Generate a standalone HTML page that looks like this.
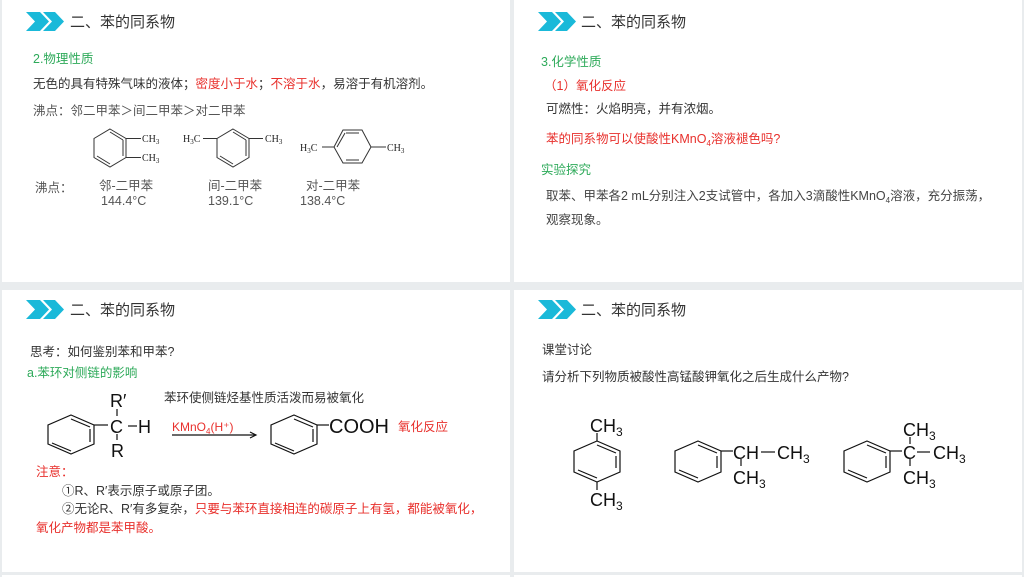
<!DOCTYPE html>
<html><head><meta charset="utf-8"><style>
html,body{margin:0;padding:0;background:#e9ecee;}
svg{display:block}
text{font-family:"Liberation Sans","Noto Sans CJK SC",sans-serif;}
.t{font-size:15px;fill:#333}
.g{font-size:12.5px;fill:#2eaa5a}
.b{font-size:12.5px;fill:#333}
.r{font-size:12.5px;fill:#e8302c}
.s{font-family:"Liberation Serif",serif;font-size:10px;fill:#222}
.m{font-size:18px;fill:#111}
</style></head><body>
<svg width="1024" height="577" viewBox="0 0 1024 577" xmlns="http://www.w3.org/2000/svg">
<rect x="0" y="0" width="1024" height="577" fill="#e9ecee"/>
<rect x="2" y="0" width="508" height="282" fill="#fff"/>
<rect x="514" y="0" width="508" height="282" fill="#fff"/>
<rect x="2" y="290" width="508" height="282" fill="#fff"/>
<rect x="514" y="290" width="508" height="282" fill="#fff"/>
<rect x="2" y="575" width="508" height="2" fill="#fff"/>
<rect x="514" y="575" width="508" height="2" fill="#fff"/>

<!-- chevrons -->
<g fill="#1ab9d9">
<polygon points="26,12 40,12 49,21.5 40,31 26,31 35,21.5"/>
<polygon points="43,12 55,12 64,21.5 55,31 43,31 52,21.5"/>
<polygon points="538,12 552,12 561,21.5 552,31 538,31 547,21.5"/>
<polygon points="555,12 567,12 576,21.5 567,31 555,31 564,21.5"/>
<polygon points="26,300 40,300 49,309.5 40,319 26,319 35,309.5"/>
<polygon points="43,300 55,300 64,309.5 55,319 43,319 52,309.5"/>
<polygon points="538,300 552,300 561,309.5 552,319 538,319 547,309.5"/>
<polygon points="555,300 567,300 576,309.5 567,319 555,319 564,309.5"/>
</g>
<text class="t" x="70" y="27">二、苯的同系物</text>
<text class="t" x="581" y="27">二、苯的同系物</text>
<text class="t" x="70" y="315">二、苯的同系物</text>
<text class="t" x="581" y="315">二、苯的同系物</text>

<!-- Panel 1 -->
<text class="g" x="33" y="63">2.物理性质</text>
<text class="b" x="33" y="88">无色的具有特殊气味的液体；<tspan fill="#e8302c">密度小于水</tspan>；<tspan fill="#e8302c">不溶于水</tspan>，易溶于有机溶剂。</text>
<text class="b" x="33" y="115" style="fill:#555">沸点：邻二甲苯＞间二甲苯＞对二甲苯</text>
<g stroke="#333" stroke-width="1" fill="none">
<polygon points="110,129 126,138.5 126,157.5 110,167 94,157.5 94,138.5"/>
<line x1="110" y1="132" x2="123" y2="140"/><line x1="123" y1="140" x2="123" y2="156"/><line x1="97" y1="156" x2="110" y2="164"/>
<line x1="126" y1="138.5" x2="141" y2="138.5"/><line x1="126" y1="157.5" x2="141" y2="157.5"/>
<polygon points="233,129 249,138.5 249,157.5 233,167 217,157.5 217,138.5"/>
<line x1="233" y1="132" x2="246" y2="140"/><line x1="246" y1="140" x2="246" y2="156"/><line x1="220" y1="156" x2="233" y2="164"/>
<line x1="203" y1="138.5" x2="217" y2="138.5"/><line x1="249" y1="138.5" x2="263" y2="138.5"/>
<polygon points="334,147 343,130 362,130 371,147 362,163 343,163"/>
<line x1="346" y1="133" x2="359" y2="133"/><line x1="346" y1="160" x2="359" y2="160"/><line x1="337" y1="147" x2="345" y2="133"/>
<line x1="322" y1="147" x2="334" y2="147"/><line x1="371" y1="147" x2="386" y2="147"/>
</g>
<text class="s" x="142" y="142">CH<tspan font-size="7" dy="2">3</tspan></text>
<text class="s" x="142" y="161">CH<tspan font-size="7" dy="2">3</tspan></text>
<text class="s" x="183" y="142">H<tspan font-size="7" dy="2">3</tspan><tspan dy="-2">C</tspan></text>
<text class="s" x="265" y="142">CH<tspan font-size="7" dy="2">3</tspan></text>
<text class="s" x="300" y="151">H<tspan font-size="7" dy="2">3</tspan><tspan dy="-2">C</tspan></text>
<text class="s" x="387" y="151">CH<tspan font-size="7" dy="2">3</tspan></text>
<text class="b" x="35" y="192" style="fill:#555">沸点：</text>
<text class="b" x="99" y="190" style="fill:#555">邻-二甲苯</text>
<text class="b" x="101" y="205" style="fill:#555">144.4°C</text>
<text class="b" x="208" y="190" style="fill:#555">间-二甲苯</text>
<text class="b" x="208" y="205" style="fill:#555">139.1°C</text>
<text class="b" x="306" y="190" style="fill:#555">对-二甲苯</text>
<text class="b" x="300" y="205" style="fill:#555">138.4°C</text>

<!-- Panel 2 -->
<text class="g" x="541" y="66">3.化学性质</text>
<text class="r" x="544" y="90">（1）氧化反应</text>
<text class="b" x="546" y="113">可燃性：火焰明亮，并有浓烟。</text>
<text class="r" x="546" y="143">苯的同系物可以使酸性KMnO<tspan font-size="8" dy="3">4</tspan><tspan dy="-3">溶液褪色吗?</tspan></text>
<text class="g" x="541" y="174">实验探究</text>
<text class="b" x="546" y="200" style="fill:#444">取苯、甲苯各2  mL分别注入2支试管中，各加入3滴酸性KMnO<tspan font-size="8" dy="3">4</tspan><tspan dy="-3">溶液，充分振荡，</tspan></text>
<text class="b" x="546" y="224" style="fill:#444">观察现象。</text>

<!-- Panel 3 -->
<text class="b" x="30" y="356">思考：如何鉴别苯和甲苯?</text>
<text class="g" x="27" y="377">a.苯环对侧链的影响</text>
<text class="b" x="164" y="402">苯环使侧链烃基性质活泼而易被氧化</text>
<g stroke="#111" stroke-width="1.2" fill="none">
<polygon points="71,415 94,425 94,444 71,454 48,444 48,425"/>
<line x1="71" y1="419" x2="90" y2="427"/><line x1="90" y1="429" x2="90" y2="442"/><line x1="52" y1="443" x2="71" y2="451"/>
<line x1="94" y1="425" x2="108" y2="425"/>
<line x1="117" y1="409" x2="117" y2="416"/><line x1="117" y1="434" x2="117" y2="440"/>
<line x1="128" y1="426" x2="137" y2="426"/>
<polygon points="294,415 317,425 317,444 294,454 271,444 271,425"/>
<line x1="294" y1="419" x2="313" y2="427"/><line x1="313" y1="429" x2="313" y2="442"/><line x1="275" y1="443" x2="294" y2="451"/>
<line x1="317" y1="425" x2="329" y2="425"/>
<line x1="172" y1="435" x2="256" y2="435"/><polyline points="250,432 256,435 250,438"/>
</g>
<text class="m" x="110" y="407">R′</text>
<text class="m" x="110" y="433">C</text>
<text class="m" x="138" y="433">H</text>
<text class="m" x="111" y="457">R</text>
<text class="r" x="172" y="431" style="font-size:12px">KMnO<tspan font-size="8" dy="3">4</tspan><tspan dy="-3">(H⁺)</tspan></text>
<text class="m" x="329" y="433" style="font-size:20px">COOH</text>
<text class="r" x="398" y="431">氧化反应</text>
<text class="r" x="36" y="476">注意：</text>
<text class="b" x="62" y="495">①R、R′表示原子或原子团。</text>
<text class="b" x="62" y="513">②无论R、R′有多复杂，<tspan fill="#e8302c">只要与苯环直接相连的碳原子上有氢，都能被氧化，</tspan></text>
<text class="r" x="36" y="532">氧化产物都是苯甲酸。</text>

<!-- Panel 4 -->
<text class="b" x="542" y="354">课堂讨论</text>
<text class="b" x="542" y="381">请分析下列物质被酸性高锰酸钾氧化之后生成什么产物?</text>
<g stroke="#111" stroke-width="1.2" fill="none">
<polygon points="597,441 620,451 620,472 597,482 574,472 574,451"/>
<line x1="597" y1="445" x2="616" y2="453"/><line x1="616" y1="456" x2="616" y2="468"/><line x1="578" y1="470" x2="597" y2="478"/>
<line x1="597" y1="433" x2="597" y2="441"/><line x1="597" y1="482" x2="597" y2="490"/>
<polygon points="698,441 721,451 721,472 698,482 675,472 675,451"/>
<line x1="698" y1="445" x2="717" y2="453"/><line x1="717" y1="456" x2="717" y2="468"/><line x1="679" y1="470" x2="698" y2="478"/>
<line x1="721" y1="451" x2="733" y2="451"/><line x1="741" y1="459" x2="741" y2="466"/><line x1="761" y1="452" x2="775" y2="452"/>
<polygon points="867,441 890,451 890,472 867,482 844,472 844,451"/>
<line x1="867" y1="445" x2="886" y2="453"/><line x1="886" y1="456" x2="886" y2="468"/><line x1="848" y1="470" x2="867" y2="478"/>
<line x1="890" y1="451" x2="902" y2="451"/><line x1="910" y1="437" x2="910" y2="444"/><line x1="910" y1="459" x2="910" y2="466"/><line x1="917" y1="452" x2="930" y2="452"/>
</g>
<text class="m" x="590" y="432">CH<tspan font-size="12" dy="4">3</tspan></text>
<text class="m" x="590" y="506">CH<tspan font-size="12" dy="4">3</tspan></text>
<text class="m" x="733" y="459">CH</text>
<text class="m" x="777" y="459">CH<tspan font-size="12" dy="4">3</tspan></text>
<text class="m" x="733" y="484">CH<tspan font-size="12" dy="4">3</tspan></text>
<text class="m" x="903" y="436">CH<tspan font-size="12" dy="4">3</tspan></text>
<text class="m" x="903" y="459">C</text>
<text class="m" x="933" y="459">CH<tspan font-size="12" dy="4">3</tspan></text>
<text class="m" x="903" y="484">CH<tspan font-size="12" dy="4">3</tspan></text>
</svg>
</body></html>
